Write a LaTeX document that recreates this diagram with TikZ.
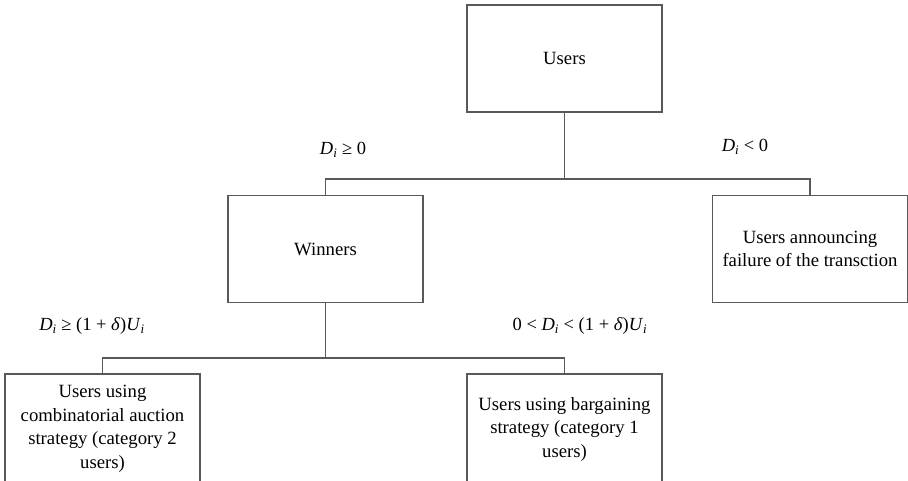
\documentclass[tikz,border=0pt]{standalone}
\usepackage{fontspec}
\setmainfont{Liberation Serif}
\definecolor{linegray}{gray}{0.35}
\newcommand{\Di}{\textit{D}\textsubscript{\textit{i}}}
\newcommand{\Ui}{\textit{U}\textsubscript{\textit{i}}}
\begin{document}
\begin{tikzpicture}[x=1pt,y=-1pt,
  box/.style={draw=linegray, line width=1.3pt, minimum width=195pt, minimum height=107pt,
    inner sep=0pt, align=center, font=\fontsize{18.7}{23.5}\selectfont},
  conn/.style={draw=linegray, line width=1.3pt},
  lab/.style={font=\fontsize{18.5}{22}\selectfont, inner sep=0pt}]
\clip (0,0) rectangle (908,480);
\node[box] (users) at (564.5,58.5) {Users};
\node[box] (win) at (325.5,249) {Winners};
\node[box] (fail) at (810,249) {Users announcing\\failure of the transction};
\node[box, minimum height=110pt] (cat2) at (102.5,429) {Users using\\combinatorial auction\\strategy (category 2\\users)};
\node[box, minimum height=110pt] (cat1) at (564.5,429) {Users using bargaining\\strategy (category 1\\users)};
\coordinate (j1) at (564.5,179);
\coordinate (j2) at (325.5,358);
\draw[conn] (users.south) -- (j1);
\draw[conn] (win.north) |- (j1) -| (fail.north);
\draw[conn] (win.south) -- (j2);
\draw[conn] (cat2.north) |- (j2) -| (cat1.north);
\node[lab] (l1) at (343,150) {\Di{} ≥ 0};
\node[lab] (l2) at (745,147) {\Di{} < 0};
\node[lab] (l3) at (92,326) {\Di{} ≥ (1 + \textit{δ})\Ui};
\node[lab] (l4) at (580,326) {0 < \Di{} < (1 + \textit{δ})\Ui};
\end{tikzpicture}
\end{document}
